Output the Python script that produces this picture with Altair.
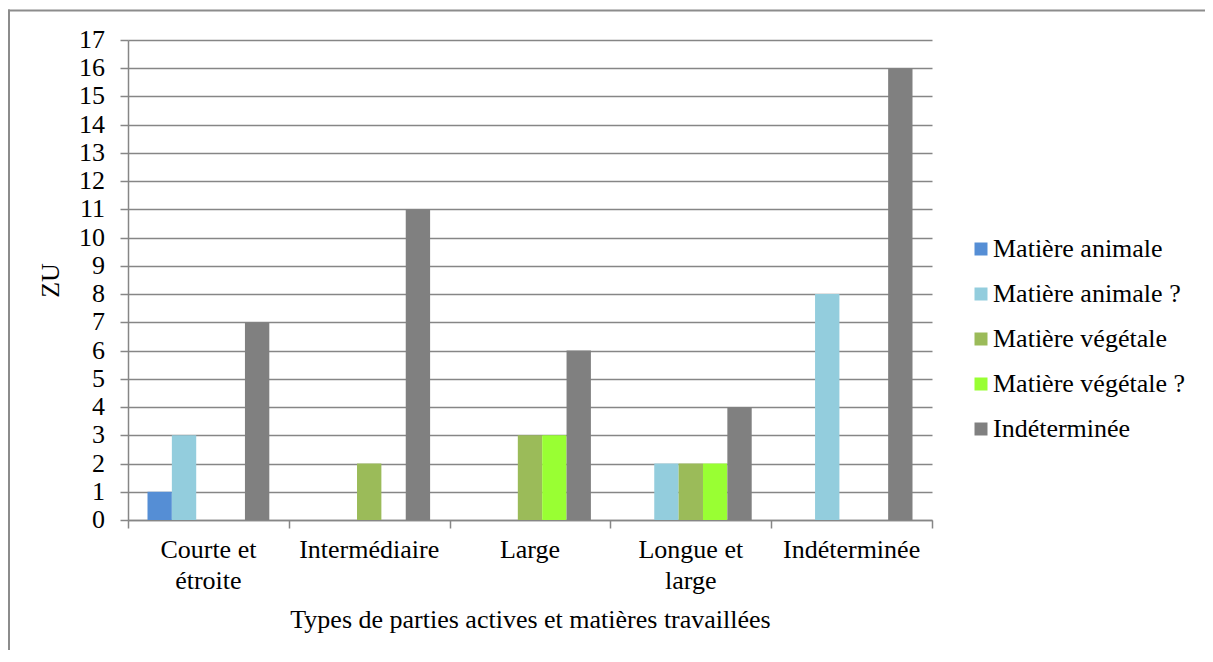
import altair as alt
import pandas as pd

categories = ["Courte et\nétroite", "Intermédiaire", "Large", "Longue et\nlarge", "Indéterminée"]
series = ["Matière animale", "Matière animale ?", "Matière végétale", "Matière végétale ?", "Indéterminée"]
colors = ["#558ED5", "#93CDDD", "#9BBB59", "#99FF33", "#808080"]
y_ticks = list(range(18))

animale = [1, 0, 0, 0, 0]
animale_q = [3, 0, 0, 2, 8]
vegetale = [0, 2, 3, 2, 0]
vegetale_q = [0, 0, 3, 2, 0]
indeterminee = [7, 11, 6, 4, 16]

values_by_series = [animale, animale_q, vegetale, vegetale_q, indeterminee]
rows = []
for s, vals in zip(series, values_by_series):
    for c, v in zip(categories, vals):
        rows.append({"cat": c, "series": s, "value": v})
df = pd.DataFrame(rows)
cat_df = pd.DataFrame({"cat": categories})
tick_df = pd.DataFrame({"v": y_ticks})
ser_df = pd.DataFrame({"series": series})

FONT = "Liberation Serif"
GRID = "#868686"
FS = 26

x_enc = alt.X("cat:N", sort=categories,
              scale=alt.Scale(paddingInner=0, paddingOuter=0),
              axis=alt.Axis(title="Types de parties actives et matières travaillées",
                            labels=False, tickBand="extent", tickSize=8,
                            titleFont=FONT, titlePadding=78, grid=False,
                            domainWidth=1.5, tickWidth=1.5))
y_scale = alt.Scale(domain=[0, 17], nice=False)
color_enc = alt.Color("series:N", sort=series,
                      scale=alt.Scale(domain=series, range=colors), legend=None)

bars = alt.Chart(df).mark_bar().encode(
    x=x_enc,
    xOffset=alt.XOffset("series:N", sort=series,
                        scale=alt.Scale(paddingInner=0, paddingOuter=0.8)),
    y=alt.Y("value:Q", scale=y_scale,
            axis=alt.Axis(values=y_ticks, tickSize=8, labels=False,
                          titleFont=FONT, title="ZU", titlePadding=56,
                          grid=True, gridWidth=1.5,
                          domainWidth=1.5, tickWidth=1.5)),
    color=color_enc,
)

y_labels = alt.Chart(tick_df).mark_text(
    font=FONT, fontSize=FS, align="right", baseline="middle", color="black"
).encode(
    y=alt.Y("v:Q", scale=y_scale, axis=None),
    x=alt.value(-23),
    text="v:Q",
)

x_labels = alt.Chart(cat_df).mark_text(
    font=FONT, fontSize=FS, align="center", baseline="top", color="black",
    lineBreak="\n", lineHeight=31
).encode(
    x=alt.X("cat:N", sort=categories),
    y=alt.value(497),
    text="cat:N",
)

legend_y = alt.Y("series:N", sort=series, axis=None,
                 scale=alt.Scale(type="point", range=[209, 389], padding=0))
legend_sq = alt.Chart(ser_df).mark_square(size=169, opacity=1).encode(
    y=legend_y, x=alt.value(853), color=color_enc,
)
legend_txt = alt.Chart(ser_df).mark_text(
    font=FONT, fontSize=FS, align="left", baseline="middle", color="black"
).encode(
    y=legend_y, x=alt.value(865), text="series:N",
)

frame_src = pd.DataFrame({"a": [0]})
left_edge = alt.Chart(frame_src).mark_rule(color="#8c8c8c", strokeWidth=2).encode(
    x=alt.value(-119), y=alt.value(-30.5), y2=alt.value(700),
)
top_edge = alt.Chart(frame_src).mark_rule(color="#8c8c8c", strokeWidth=2).encode(
    x=alt.value(-120), x2=alt.value(1200), y=alt.value(-29.5),
)

chart = alt.layer(
    left_edge, top_edge, bars, y_labels, x_labels, legend_sq, legend_txt
).resolve_scale(y="independent").properties(
    width=804, height=480,
    autosize=alt.AutoSizeParams(type="none"),
    padding={"left": 120, "top": 32, "right": 273, "bottom": 130},
    background="white",
).configure_view(stroke="transparent").configure_axis(
    titleFontSize=FS, titleFontWeight="normal", titleColor="black",
    domainColor=GRID, tickColor=GRID, gridColor=GRID,
)

chart.save("out.html", embed_options={"renderer": "svg", "actions": False})
